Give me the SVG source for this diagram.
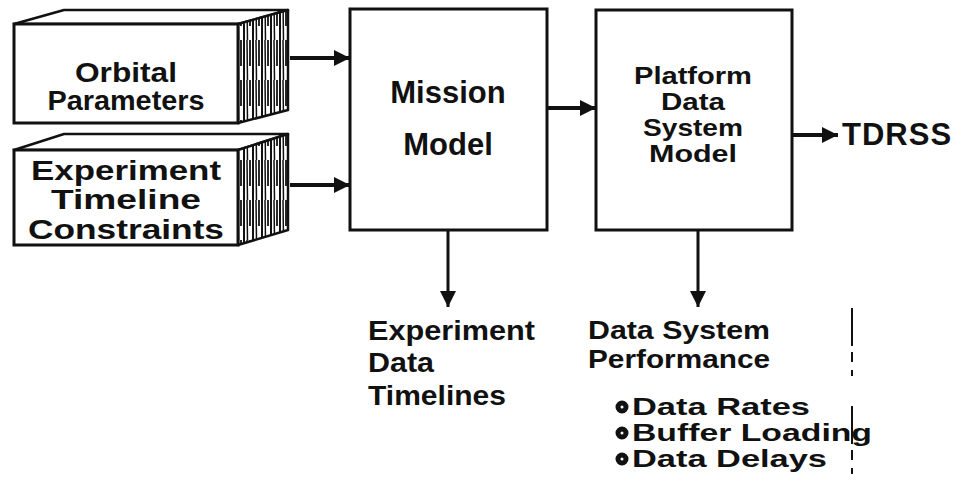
<svg xmlns="http://www.w3.org/2000/svg" width="964" height="492" viewBox="0 0 964 492">
  <defs>
    <style>
      .box { fill: #fff; stroke: #111; stroke-width: 3; }
      .face { fill: #fff; stroke: #111; stroke-width: 2.5; stroke-linejoin: round; }
      .side { fill: url(#hatch); stroke: #111; stroke-width: 2.5; stroke-linejoin: round; }
      .lbl { font-family: "Liberation Sans", Arial, sans-serif; font-weight: bold; fill: #111; }
      .wire { stroke: #111; stroke-width: 4; fill: none; }
      .thin { stroke: #111; stroke-width: 3; fill: none; }
      .dot { fill: #fff; stroke: #111; stroke-width: 5; }
    </style>
    <!-- dense vertical shading for the box sides -->
    <pattern id="hatch" patternUnits="userSpaceOnUse" width="9" height="40">
      <rect width="9" height="40" fill="#fff"/>
      <line x1="1" y1="0" x2="1" y2="40" stroke="#111" stroke-width="2"/>
      <line x1="4" y1="0" x2="4.5" y2="40" stroke="#111" stroke-width="1.5"/>
      <line x1="7" y1="0" x2="7" y2="26" stroke="#111" stroke-width="1.8"/>
    </pattern>
    <marker id="head" markerUnits="userSpaceOnUse" markerWidth="18" markerHeight="16" refX="16" refY="8" orient="auto">
      <path d="M0,0 L16,8 L0,16 Z" fill="#111"/>
    </marker>
  </defs>

  <rect width="964" height="492" fill="#fff"/>

  <!-- input block: orbital parameters -->
  <g id="orbital-parameters">
    <polygon class="face" points="14,24 238,24 288,10 64,10"/>
    <polygon class="side" points="238,24 288,10 288,110 238,123"/>
    <rect class="box" x="14" y="24" width="224" height="99"/>
    <text class="lbl" x="126" y="82" font-size="27" text-anchor="middle" textLength="102" lengthAdjust="spacingAndGlyphs">Orbital</text>
    <text class="lbl" x="126" y="110" font-size="27" text-anchor="middle" textLength="157" lengthAdjust="spacingAndGlyphs">Parameters</text>
  </g>

  <!-- input block: experiment timeline constraints -->
  <g id="experiment-constraints">
    <polygon class="face" points="14,150 238,150 288,134 64,134"/>
    <polygon class="side" points="238,150 288,134 288,230 238,245"/>
    <rect class="box" x="14" y="150" width="224" height="95"/>
    <text class="lbl" x="126" y="180" font-size="28" text-anchor="middle" textLength="190" lengthAdjust="spacingAndGlyphs">Experiment</text>
    <text class="lbl" x="126" y="209" font-size="28" text-anchor="middle" textLength="150" lengthAdjust="spacingAndGlyphs">Timeline</text>
    <text class="lbl" x="126" y="239" font-size="28" text-anchor="middle" textLength="196" lengthAdjust="spacingAndGlyphs">Constraints</text>
  </g>

  <!-- mission model -->
  <g id="mission-model">
    <rect class="box" x="350" y="9" width="197" height="221"/>
    <text class="lbl" x="448" y="103" font-size="31" text-anchor="middle">Mission</text>
    <text class="lbl" x="448" y="155" font-size="31" text-anchor="middle">Model</text>
  </g>

  <!-- platform data system model -->
  <g id="platform-model">
    <rect class="box" x="596" y="10" width="196" height="220"/>
    <text class="lbl" x="693" y="84" font-size="24" text-anchor="middle" textLength="118" lengthAdjust="spacingAndGlyphs">Platform</text>
    <text class="lbl" x="693" y="110" font-size="24" text-anchor="middle" textLength="64" lengthAdjust="spacingAndGlyphs">Data</text>
    <text class="lbl" x="693" y="136" font-size="24" text-anchor="middle" textLength="100" lengthAdjust="spacingAndGlyphs">System</text>
    <text class="lbl" x="693" y="162" font-size="24" text-anchor="middle" textLength="88" lengthAdjust="spacingAndGlyphs">Model</text>
  </g>

  <!-- relay destination -->
  <g id="tdrss">
    <text class="lbl" x="842" y="145" font-size="31" letter-spacing="1">TDRSS</text>
  </g>

  <!-- outputs -->
  <g id="experiment-data-timelines">
    <text class="lbl" x="368" y="340" font-size="28" textLength="167" lengthAdjust="spacingAndGlyphs">Experiment</text>
    <text class="lbl" x="368" y="372" font-size="28" textLength="66" lengthAdjust="spacingAndGlyphs">Data</text>
    <text class="lbl" x="368" y="405" font-size="28" textLength="138" lengthAdjust="spacingAndGlyphs">Timelines</text>
  </g>

  <g id="data-system-performance">
    <text class="lbl" x="588" y="339" font-size="26" textLength="182" lengthAdjust="spacingAndGlyphs">Data System</text>
    <text class="lbl" x="588" y="368" font-size="26" textLength="182" lengthAdjust="spacingAndGlyphs">Performance</text>
    <circle class="dot" cx="622" cy="407" r="4"/>
    <circle class="dot" cx="622" cy="433" r="4"/>
    <circle class="dot" cx="622" cy="459" r="4"/>
    <text class="lbl" x="632" y="415" font-size="24" textLength="178" lengthAdjust="spacingAndGlyphs">Data Rates</text>
    <text class="lbl" x="632" y="441" font-size="24" textLength="240" lengthAdjust="spacingAndGlyphs">Buffer Loading</text>
    <text class="lbl" x="632" y="467" font-size="24" textLength="195" lengthAdjust="spacingAndGlyphs">Data Delays</text>
  </g>

  <!-- connectors -->
  <g id="connectors">
    <line class="wire" x1="290" y1="58" x2="350" y2="58" marker-end="url(#head)"/>
    <line class="wire" x1="290" y1="185" x2="350" y2="185" marker-end="url(#head)"/>
    <line class="wire" x1="547" y1="108" x2="596" y2="108" marker-end="url(#head)"/>
    <line class="wire" x1="792" y1="135" x2="838" y2="135" marker-end="url(#head)"/>
    <line class="thin" x1="448" y1="230" x2="448" y2="307" marker-end="url(#head)"/>
    <line class="thin" x1="698" y1="230" x2="698" y2="307" marker-end="url(#head)"/>
    <line x1="852" y1="308" x2="852" y2="492" stroke="#111" stroke-width="2" stroke-dasharray="38,6,10,8,6,30"/>
  </g>
</svg>
